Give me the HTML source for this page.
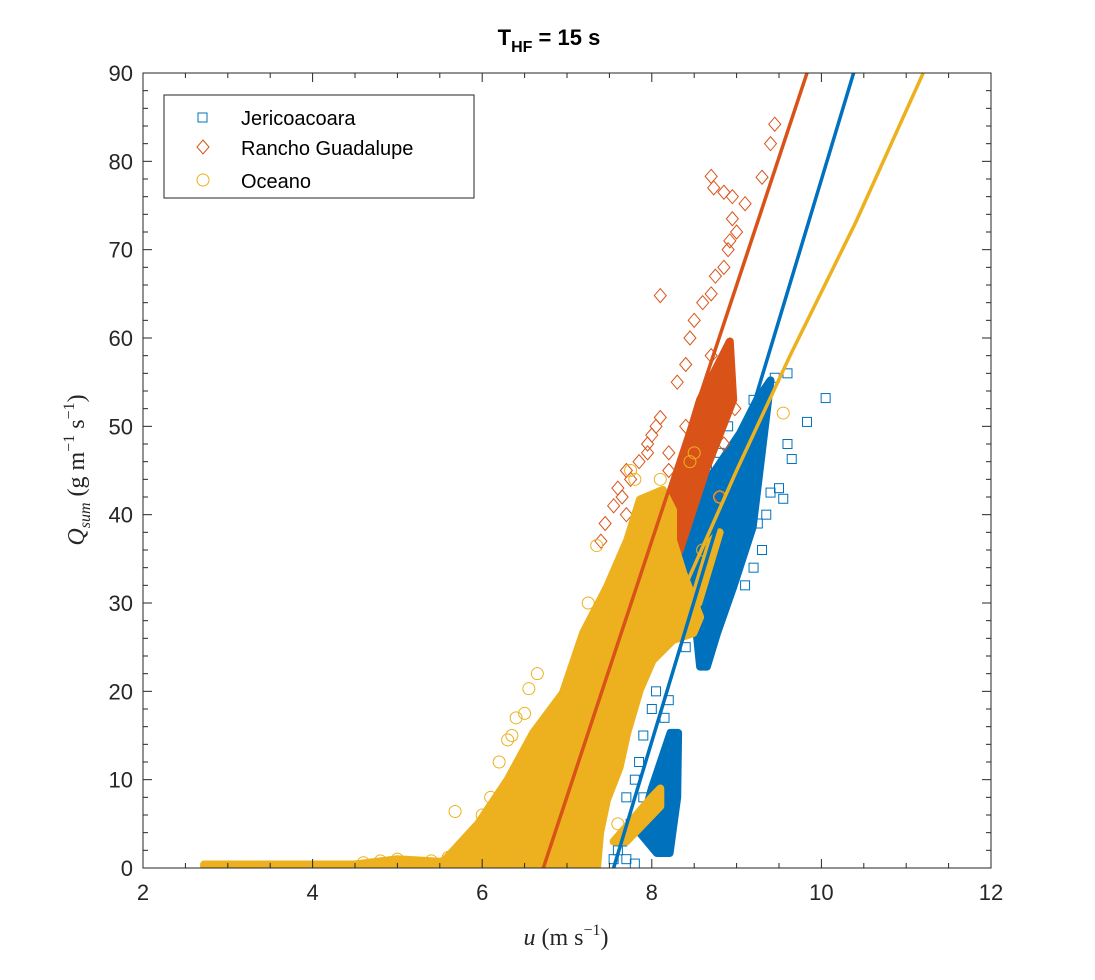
<!DOCTYPE html>
<html><head><meta charset="utf-8"><style>
html,body{margin:0;padding:0;background:#fff;}
svg text{font-family:"Liberation Sans",sans-serif;fill:#262626;}
</style></head><body>
<svg id="chart" width="1095" height="975" viewBox="0 0 1095 975" xmlns="http://www.w3.org/2000/svg">
<defs><clipPath id="clip"><rect x="143" y="73" width="848" height="795"/></clipPath></defs>
<rect x="0" y="0" width="1095" height="975" fill="#fff"/>
<text x="549" y="45" text-anchor="middle" font-size="22" font-weight="bold" style="fill:#000">T<tspan font-size="16" dy="7">HF</tspan><tspan dy="-7"> = 15 s</tspan></text>
<g id="marks" clip-path="url(#clip)"></g>
<g id="axes"></g>
<text x="566" y="945" text-anchor="middle" font-size="24" style="font-family:'Liberation Serif',serif;fill:#262626"><tspan font-style="italic">u</tspan> (m s<tspan font-size="16" dy="-10">−1</tspan><tspan dy="10">)</tspan></text>
<text transform="translate(84,470) rotate(-90)" text-anchor="middle" font-size="24" style="font-family:'Liberation Serif',serif;fill:#262626"><tspan font-style="italic">Q</tspan><tspan font-size="16" font-style="italic" dy="6">sum</tspan><tspan dy="-6"> (g m</tspan><tspan font-size="16" dy="-10">−1</tspan><tspan dy="10"> s</tspan><tspan font-size="16" dy="-10">−1</tspan><tspan dy="10">)</tspan></text>
<g>
<rect x="164" y="95" width="310" height="103" fill="#fff" stroke="#262626" stroke-width="1"/>
<rect x="198" y="113" width="9" height="9" fill="none" stroke="#0072BD"/>
<text x="241" y="125" font-size="20" style="fill:#000">Jericoacoara</text>
<path d="M203,140 L209,147 L203,154 L197,147 Z" fill="none" stroke="#D95319"/>
<text x="241" y="155" font-size="20" style="fill:#000">Rancho Guadalupe</text>
<circle cx="203" cy="180" r="6" fill="none" stroke="#EDB120"/>
<text x="241" y="188" font-size="20" style="fill:#000">Oceano</text>
</g>
</svg>
<script>
const xTicks=[2,4,6,8,10,12];
const yTicks=[0,10,20,30,40,50,60,70,80,90];
const blueX=[10.05,9.83,9.6,9.65,9.5,9.55,9.4,9.35,9.25,9.05,9.6,9.45,8.5,8.35,8.05,8.0,7.9,7.85,7.8,7.7,7.75,7.6,7.55,7.7,7.8,7.65,8.4,8.8,8.65,8.95,9.0,9.2,8.3,9.3,9.2,9.1,8.9,8.8,8.2,8.15,7.95,7.9];
const blueY=[53.2,50.5,48,46.3,43,41.8,42.5,40,39,37,56,55.5,40,38,20,18,15,12,10,8,5,2,1,1,0.5,3,25,31,45.5,44,48,53,35,36,34,32,50,47,19,17,6,8];
const redX=[9.45,9.4,9.3,8.7,8.73,8.85,8.95,9.1,8.95,9.0,8.92,8.9,8.85,8.75,8.7,8.6,8.1,8.5,8.45,8.7,8.8,8.9,8.98,8.4,8.3,8.1,8.0,7.95,8.2,8.6,8.8,7.7,7.6,7.55,7.45,7.4,7.8,8.0,8.1,7.9,8.85,8.2,8.4,7.65,7.75,7.85,7.7,7.95,8.05];
const redY=[84.2,82,78.2,78.3,77,76.5,76,75.2,73.5,72,71,70,68,67,65,64,64.8,62,60,58,56,54,52,57,55,51,49,47,45,47,42,45,43,41,39,37,36,34,30,38,48,47,50,42,44,46,40,48,50];
const yelX=[5.68,6.55,6.3,6.35,6.4,6.5,6.2,6.1,6.0,5.9,9.55,8.5,8.45,7.2,7.25,7.35,7.6,8.6,8.8,5.0,4.8,4.6,5.4,5.6,6.6,6.7,7.5,7.4,7.6,7.75,7.8,8.0,8.1,6.45,6.65];
const yelY=[6.4,20.3,14.5,15,17,17.5,12,8,6,4,51.5,47,46,24.5,30,36.5,26,36,42,1,0.8,0.6,0.8,1.2,13,15,15,9,5,45,44,41,44,11,22];
const blueBandX=[8.06,8.25,8.41,8.65,9.04,9.24,9.4,9.19,8.96,8.77,8.65,8.57,8.53,8.33];
const blueBandY=[26.6,30.3,37.9,43.6,49.2,53,55.2,38.6,31.8,26.6,22.8,22.8,26.6,27.3];
const blueLowX=[7.86,8.06,8.21,8.3,8.31,8.22,8.0];
const blueLowY=[4.0,1.7,1.7,8,15.3,15.3,9];
const redClusterX=[7.71,8.06,8.33,8.57,8.92,8.96,8.65,8.33,8.01];
const redClusterY=[21.6,35.7,45.4,53,59.6,53,45.4,36,30.3];
const yelBaseX=[2.72,4.5,5.0,5.5,5.9,6.2,6.2,2.72];
const yelBaseY=[0.4,0.4,1.0,0.7,1.5,3.0,-0.4,-0.4];
const yelCloudX=[5.5,5.95,6.3,6.6,6.95,7.19,7.47,7.71,7.86,8.13,8.25,8.25,8.37,8.57,8.49,8.25,8.01,7.86,7.71,7.62,7.47,7.39,7.35];
const yelCloudY=[0.3,5,10,15.3,19.8,26.6,31.8,37.1,41.7,42.8,40.5,37.1,33.4,28.4,26.6,25.8,23.5,20.2,15.3,11.4,7.7,4.0,-0.4];
const yelStreakX=[7.55,8.0,8.1,8.1,7.7];
const yelStreakY=[3,8,9,7,3];
const yelStreak2X=[8.45,8.7,8.8,8.55];
const yelStreak2Y=[29,37,38,30];
const redFitX=[6.72,9.83];
const redFitY=[0,90];
const blueFitX=[7.55,10.38];
const blueFitY=[0,90];
const yelFitX=[8.4,9.0,9.63,10.4,11.2];
const yelFitY=[32,45,58,73,90];

const L=143,R=991,T=73,B=868;
const sx=v=>L+(v-2)/10*(R-L);
const sy=v=>B-v/90*(B-T);
const NS="http://www.w3.org/2000/svg";
const marks=document.getElementById('marks');
const axes=document.getElementById('axes');
function mk(tag,attrs,parent){const e=document.createElementNS(NS,tag);for(const k in attrs)e.setAttribute(k,attrs[k]);parent.appendChild(e);return e;}
function poly(xs,ys,color,name){
  const pts=xs.map((x,i)=>sx(x).toFixed(1)+','+sy(ys[i]).toFixed(1)).join(' ');
  const p=mk('polygon',{points:pts,fill:color,stroke:color,'stroke-width':8,'stroke-linejoin':'round'},marks);
  
  
}
function squares(xs,ys){xs.forEach((x,i)=>{const e=mk('rect',{x:sx(x)-4.5,y:sy(ys[i])-4.5,width:9,height:9,fill:'none',stroke:'#0072BD'},marks);
  
  });}
function diamonds(xs,ys){xs.forEach((x,i)=>{const cx=sx(x),cy=sy(ys[i]);const e=mk('path',{d:`M${cx},${cy-7}L${cx+6},${cy}L${cx},${cy+7}L${cx-6},${cy}Z`,fill:'none',stroke:'#D95319'},marks);
  
  });}
function circles(xs,ys){xs.forEach((x,i)=>{const e=mk('circle',{cx:sx(x),cy:sy(ys[i]),r:6,fill:'none',stroke:'#EDB120'},marks);
  
  });}
function line(xs,ys,color,name){
  const d=xs.map((x,i)=>(i?'L':'M')+sx(x).toFixed(1)+','+sy(ys[i]).toFixed(1)).join('');
  const p=mk('path',{d:d,fill:'none',stroke:color,'stroke-width':3.5},marks);
  
  
}
poly(blueBandX,blueBandY,'#0072BD','jericoacoara-cluster-upper');
poly(blueLowX,blueLowY,'#0072BD','jericoacoara-cluster-lower');
squares(blueX,blueY);
poly(redClusterX,redClusterY,'#D95319','rancho-cluster');
diamonds(redX,redY);
poly(yelBaseX,yelBaseY,'#EDB120','oceano-baseline');
poly(yelCloudX,yelCloudY,'#EDB120','oceano-cluster');
poly(yelStreakX,yelStreakY,'#EDB120','oceano-streak');
poly(yelStreak2X,yelStreak2Y,'#EDB120','oceano-streak-2');
circles(yelX,yelY);
line(blueFitX,blueFitY,'#0072BD','jericoacoara-fit-line');
line(redFitX,redFitY,'#D95319','rancho-fit-line');
line(yelFitX,yelFitY,'#EDB120','oceano-fit-line');

const box=mk('rect',{x:L,y:T,width:R-L,height:B-T,fill:'none',stroke:'#262626','stroke-width':1},axes);


for(let i=0;i<xTicks.length-1;i++){for(let k=0;k<4;k++){const v=xTicks[i]+k*(xTicks[i+1]-xTicks[i])/4;const len=k?5:9;const x=sx(v);
  const t1=mk('line',{x1:x,x2:x,y1:B,y2:B-len,stroke:'#262626'},axes);
  
  
  const t2=mk('line',{x1:x,x2:x,y1:T,y2:T+len,stroke:'#262626'},axes);
  
  }}
xTicks.forEach(v=>{const t=mk('text',{x:sx(v),y:B+32,'text-anchor':'middle','font-size':22},axes);t.textContent=v;
  
  });
for(let i=0;i<yTicks.length-1;i++){for(let k=0;k<5;k++){const v=yTicks[i]+k*(yTicks[i+1]-yTicks[i])/5;const len=k?5:9;const y=sy(v);
  const t1=mk('line',{x1:L,x2:L+len,y1:y,y2:y,stroke:'#262626'},axes);
  
  
  const t2=mk('line',{x1:R,x2:R-len,y1:y,y2:y,stroke:'#262626'},axes);
  
  }}
yTicks.forEach(v=>{const t=mk('text',{x:L-10,y:sy(v)+8,'text-anchor':'end','font-size':22},axes);t.textContent=v;
  
  });
</script>
</body></html>
